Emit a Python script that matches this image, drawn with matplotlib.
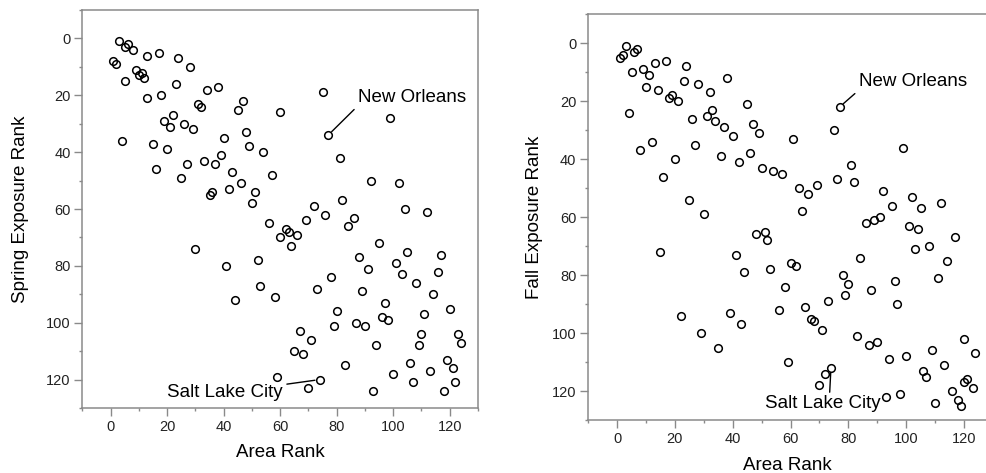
import numpy as np
import matplotlib
matplotlib.use('Agg')
import matplotlib.pyplot as plt
from matplotlib.ticker import MultipleLocator

plt.rcParams['font.family'] = ['Liberation Sans', 'DejaVu Sans']

# Spring panel: area rank vs spring exposure rank
spring_area = [3, 6, 5, 8, 13, 17, 1, 2, 9, 11, 10, 12, 5, 24, 28, 23, 13, 18, 34, 38,
               31, 32, 47, 45, 22, 19, 21, 26, 29, 60, 4, 15, 20, 40, 48, 49, 54, 39, 33, 37,
               27, 16, 25, 43, 46, 57, 42, 36, 35, 51, 50, 56, 60, 30, 41, 52, 53, 44, 58, 59,
               82, 72, 76, 86, 84, 69, 62, 63, 66, 64, 104, 112, 95, 105, 117, 88, 101, 91, 103, 116,
               108, 78, 73, 89, 114, 97, 120, 111, 80, 96, 98, 79, 87, 90, 110, 123, 124, 67, 71, 94,
               109, 65, 68, 106, 119, 121, 83, 113, 100, 74, 70, 107, 122, 118, 93, 75, 99, 77, 81, 92,
               102]
spring_rank = [1, 2, 3, 4, 6, 5, 8, 9, 11, 12, 13, 14, 15, 7, 10, 16, 21, 20, 18, 17,
               23, 24, 22, 25, 27, 29, 31, 30, 32, 26, 36, 37, 39, 35, 33, 38, 40, 41, 43, 44,
               44, 46, 49, 47, 51, 48, 53, 54, 55, 54, 58, 65, 70, 74, 80, 78, 87, 92, 91, 119,
               57, 59, 62, 63, 66, 64, 67, 68, 69, 73, 60, 61, 72, 75, 76, 77, 79, 81, 83, 82,
               86, 84, 88, 89, 90, 93, 95, 97, 96, 98, 99, 101, 100, 101, 104, 104, 107, 103, 106, 108,
               108, 110, 111, 114, 113, 116, 115, 117, 118, 120, 123, 121, 121, 124, 124, 19, 28, 34, 42, 50,
               51]

# Fall panel: area rank vs fall exposure rank
fall_area = [3, 1, 2, 6, 7, 5, 9, 11, 13, 17, 10, 14, 24, 23, 28, 32, 38, 19, 18, 21,
             4, 26, 31, 33, 34, 37, 40, 45, 47, 49, 8, 12, 27, 20, 16, 36, 42, 46, 50, 54,
             25, 77, 75, 61, 99, 57, 81, 76, 82, 69, 63, 66, 92, 102, 112, 64, 105, 95, 86, 89,
             91, 101, 104, 117, 108, 103, 114, 111, 51, 52, 84, 60, 62, 53, 78, 80, 96, 88, 79, 58,
             73, 97, 56, 65, 67, 68, 71, 83, 87, 90, 120, 109, 124, 94, 100, 113, 106, 107, 59, 74,
             72, 70, 121, 120, 123, 116, 118, 119, 110, 98, 93, 30, 48, 15, 41, 44, 22, 39, 43, 29,
             35]
fall_rank = [1, 5, 4, 3, 2, 10, 9, 11, 7, 6, 15, 16, 8, 13, 14, 17, 12, 18, 19, 20,
             24, 26, 25, 23, 27, 29, 32, 21, 28, 31, 37, 34, 35, 40, 46, 39, 41, 38, 43, 44,
             54, 22, 30, 33, 36, 45, 42, 47, 48, 49, 50, 52, 51, 53, 55, 58, 57, 56, 62, 61,
             60, 63, 64, 67, 70, 71, 75, 81, 65, 68, 74, 76, 77, 78, 80, 83, 82, 85, 87, 84,
             89, 90, 92, 91, 95, 96, 99, 101, 104, 103, 102, 106, 107, 109, 108, 111, 113, 115, 110, 112,
             114, 118, 116, 117, 119, 120, 123, 125, 124, 121, 122, 59, 66, 72, 73, 79, 94, 93, 97, 100,
             105]

new_orleans_spring = (77, 34)
salt_lake_spring = (74, 120)
new_orleans_fall = (77, 22)
salt_lake_fall = (74, 112)

spine_color = '#8a8a8a'
tick_size = 10.5
label_size = 13.5
note_size = 13.5


def style_axis(ax, xmax):
    ax.set_xlim(-10, xmax)
    ax.set_ylim(130, -10)
    ax.xaxis.set_major_locator(MultipleLocator(20))
    ax.xaxis.set_minor_locator(MultipleLocator(10))
    ax.yaxis.set_major_locator(MultipleLocator(20))
    ax.yaxis.set_minor_locator(MultipleLocator(10))
    for s in ax.spines.values():
        s.set_color(spine_color)
        s.set_linewidth(1.1)
    ax.tick_params(which='major', length=5.5, width=1.0, color=spine_color,
                   labelsize=tick_size, labelcolor='#222222', pad=3)
    ax.tick_params(which='minor', length=2.5, width=1.0, color=spine_color)


fig = plt.figure(figsize=(9.87, 4.73), dpi=100)
ax1 = fig.add_axes([0.0834, 0.1374, 0.4009, 0.8414])
ax2 = fig.add_axes([0.596, 0.112, 0.404, 0.858])

ax1.plot(spring_area, spring_rank, 'o', mfc='none', mec='black', ms=5.5, mew=1.1, clip_on=False)
style_axis(ax1, 130)
ax1.set_xlabel('Area Rank', fontsize=label_size, labelpad=7)
ax1.set_ylabel('Spring Exposure Rank', fontsize=label_size, labelpad=12)
ax1.annotate('New Orleans', xy=new_orleans_spring, xytext=(87.5, 20.7),
             ha='left', va='center', fontsize=note_size,
             arrowprops=dict(arrowstyle='-', lw=1, color='black', shrinkA=1, shrinkB=3.5, relpos=(0, 0)))
ax1.annotate('Salt Lake City', xy=salt_lake_spring, xytext=(20, 124.5),
             ha='left', va='center', fontsize=note_size,
             arrowprops=dict(arrowstyle='-', lw=1, color='black', shrinkA=1, shrinkB=3.5, relpos=(1, 0.95)))

ax2.plot(fall_area, fall_rank, 'o', mfc='none', mec='black', ms=5.5, mew=1.1, clip_on=False)
style_axis(ax2, 128)
ax2.spines['right'].set_visible(False)
ax2.set_xlabel('Area Rank', fontsize=label_size, labelpad=8)
ax2.set_ylabel('Fall Exposure Rank', fontsize=label_size, labelpad=6)
ax2.annotate('New Orleans', xy=new_orleans_fall, xytext=(83.6, 13.3),
             ha='left', va='center', fontsize=note_size,
             arrowprops=dict(arrowstyle='-', lw=1, color='black', shrinkA=1, shrinkB=3.5, relpos=(0, 0)))
ax2.annotate('Salt Lake City', xy=salt_lake_fall, xytext=(51.1, 124.3),
             ha='left', va='center', fontsize=note_size,
             arrowprops=dict(arrowstyle='-', lw=1, color='black', shrinkA=0, shrinkB=3.5, relpos=(0.56, 1)))

fig.savefig('out.png', dpi=100)
